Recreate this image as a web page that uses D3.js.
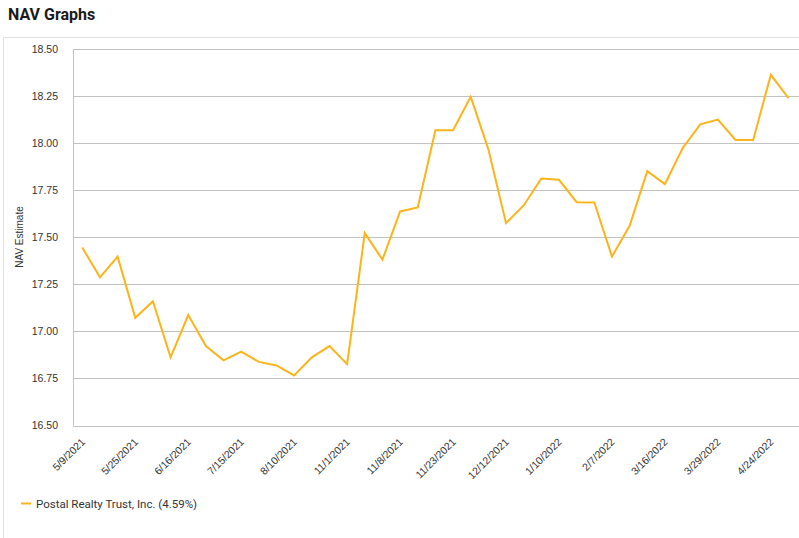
<!DOCTYPE html>
<html>
<head>
<meta charset="utf-8">
<script src="https://cdn.jsdelivr.net/npm/d3@7"></script>
<style>
  body { margin: 0; background: #fff; }
  svg { display: block; font-family: Roboto, "Liberation Sans", sans-serif; }
</style>
</head>
<body>
<div id="content"></div>
<script>
const navValues = [
  17.445, 17.287, 17.397, 17.072, 17.160, 16.862, 17.087, 16.922, 16.846, 16.892,
  16.838, 16.819, 16.766, 16.862, 16.922, 16.826, 17.522, 17.381, 17.637, 17.658,
  18.068, 18.068, 18.246, 17.967, 17.575, 17.669, 17.812, 17.805, 17.686, 17.685,
  17.397, 17.561, 17.851, 17.782, 17.973, 18.100, 18.125, 18.017, 18.017, 18.363,
  18.239
];
// every third point carries a date label
const tickIndex = [0, 3, 6, 9, 12, 15, 18, 21, 24, 27, 30, 33, 36, 39];
const tickLabels = [
  "5/9/2021", "5/25/2021", "6/16/2021", "7/15/2021", "8/10/2021", "11/1/2021",
  "11/8/2021", "11/23/2021", "12/12/2021", "1/10/2022", "2/7/2022", "3/16/2022",
  "3/29/2022", "4/24/2022"
];
const yTicks = [16.5, 16.75, 17.0, 17.25, 17.5, 17.75, 18.0, 18.25, 18.5];
const seriesName = "Postal Realty Trust, Inc. (4.59%)";

const W = 799, H = 538;
const plotLeft = 73, plotTop = 49, plotBottom = 425.5, plotRight = 799;

const svg = d3.select("#content").append("svg")
  .attr("width", W).attr("height", H);

svg.append("text")
  .attr("x", 8).attr("y", 20)
  .attr("font-size", 16).attr("font-weight", 700)
  .attr("fill", "#1a1a1a")
  .text("NAV Graphs");

// panel border
svg.append("path")
  .attr("d", `M3.5,${H} V37.5 H${W}`)
  .attr("fill", "none").attr("stroke", "#e2e2e2");

const x = d3.scaleLinear().domain([0, navValues.length - 1]).range([82.3, 788.5]);
const y = d3.scaleLinear().domain([16.5, 18.5]).range([plotBottom, plotTop]);

// gridlines + y labels
const yAxis = d3.axisLeft(y)
  .tickValues(yTicks)
  .tickFormat(d3.format(".2f"))
  .tickSize(-(plotRight - plotLeft))
  .tickPadding(15);

const gy = svg.append("g")
  .attr("transform", `translate(${plotLeft},0)`)
  .call(yAxis);
gy.select(".domain").remove();
gy.selectAll(".tick line").attr("stroke", "#c2c2c2").attr("shape-rendering", "crispEdges");
gy.selectAll(".tick text").attr("fill", "#333").attr("font-size", 10.5)
  .attr("font-family", "'Liberation Sans', Arial, sans-serif");

svg.append("line")
  .attr("x1", plotLeft + 0.5).attr("x2", plotLeft + 0.5)
  .attr("y1", plotTop).attr("y2", plotBottom)
  .attr("stroke", "#c2c2c2");

svg.append("text")
  .attr("transform", `translate(23,237) rotate(-90)`)
  .attr("text-anchor", "middle")
  .attr("font-size", 10).attr("fill", "#333")
  .attr("font-family", "'Liberation Sans', Arial, sans-serif")
  .text("NAV Estimate");

// x axis labels
const xAxis = d3.axisBottom(x)
  .tickValues(tickIndex)
  .tickFormat((d, i) => tickLabels[i])
  .tickSize(0);

const gx = svg.append("g")
  .attr("transform", `translate(0,${plotBottom})`)
  .call(xAxis);
gx.select(".domain").remove();
gx.selectAll(".tick text")
  .attr("text-anchor", "end")
  .attr("dy", 0).attr("y", 0)
  .attr("transform", "translate(3,17) rotate(-45)")
  .attr("fill", "#333").attr("font-size", 10.5)
  .attr("font-family", "'Liberation Sans', Arial, sans-serif");

// series line
const line = d3.line()
  .x((d, i) => x(i))
  .y(d => y(d));

svg.append("path")
  .datum(navValues)
  .attr("d", line)
  .attr("fill", "none")
  .attr("stroke", "#fbb41a")
  .attr("stroke-width", 2)
  .attr("stroke-linejoin", "miter");

// legend
const lg = svg.append("g").attr("transform", "translate(21,503)");
lg.append("line").attr("x1", 0).attr("x2", 10).attr("y1", 0.5).attr("y2", 0.5)
  .attr("stroke", "#fbb41a").attr("stroke-width", 2);
lg.append("text").attr("x", 15).attr("y", 4.5)
  .attr("font-size", 11.5).attr("fill", "#333")
  .text(seriesName);
</script>
</body>
</html>
